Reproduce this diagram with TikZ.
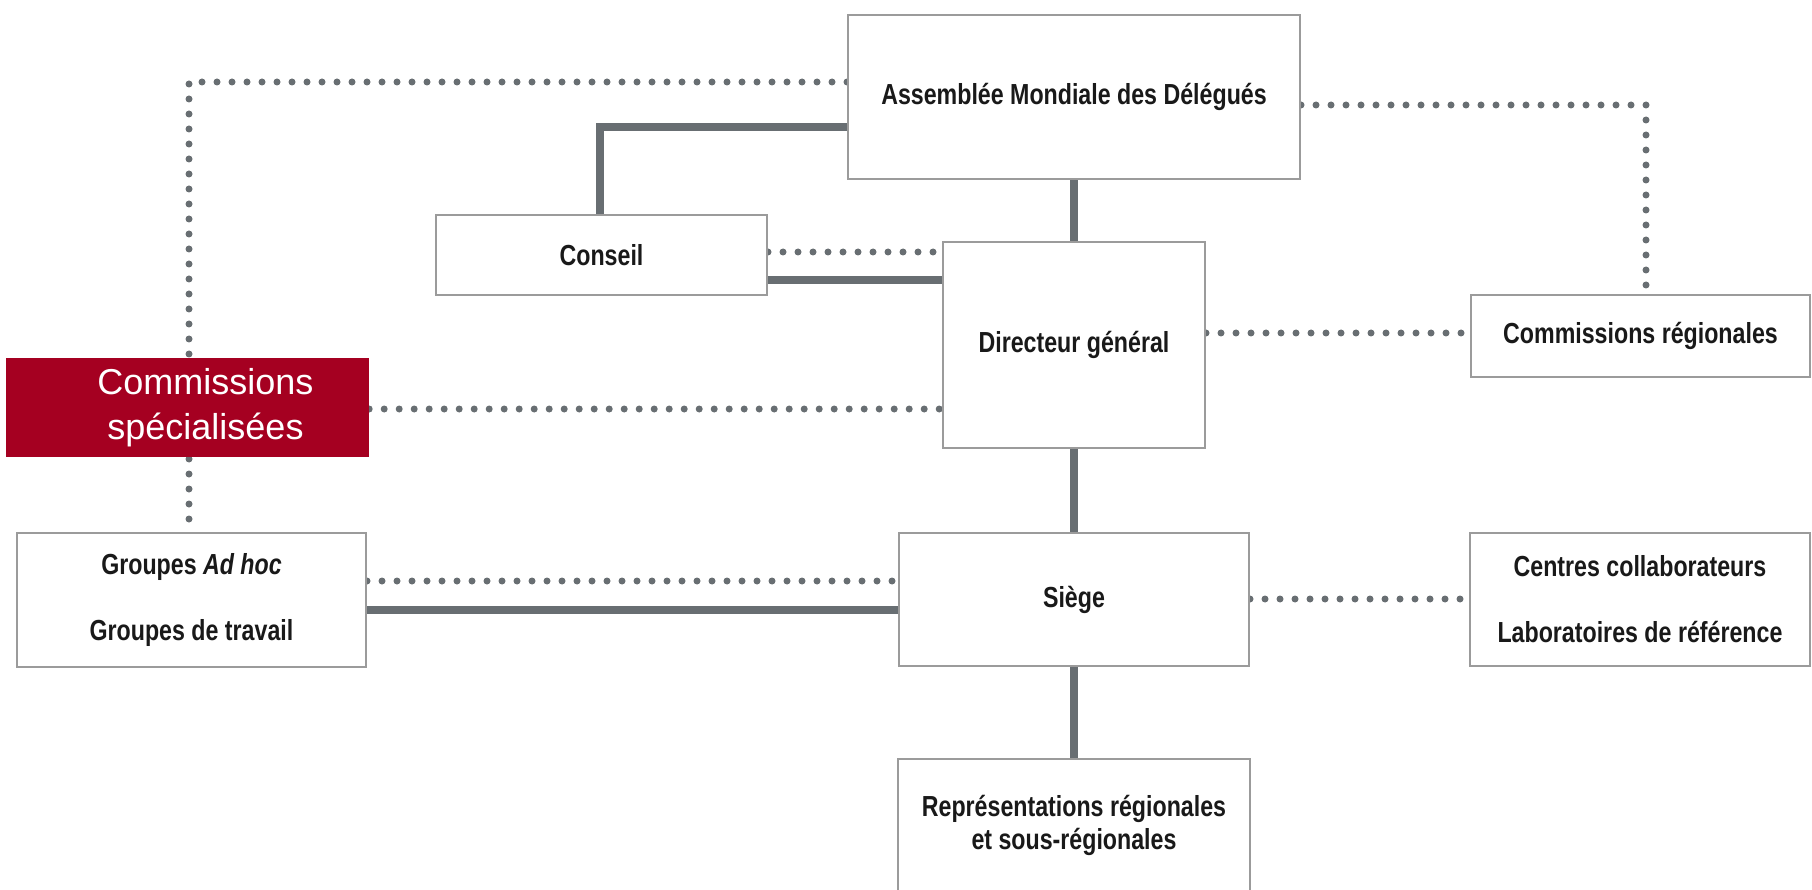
\documentclass[tikz,border=0pt]{standalone}
\usepackage{fontspec}
\newfontfamily\condfont[FakeStretch=0.8]{Liberation Sans}
\newfontfamily\arialfont{Liberation Sans}
\definecolor{linegray}{RGB}{104,110,114}
\definecolor{boxgray}{RGB}{155,155,155}
\definecolor{redbox}{RGB}{165,0,33}
\pgfdeclarelayer{bg}
\pgfsetlayers{bg,main}
\begin{document}
\begin{tikzpicture}[x=1pt,y=-1pt,
  box/.style={draw=boxgray, line width=2pt, fill=white, inner sep=0pt, align=center,
    font=\condfont\bfseries\fontsize{29}{34}\selectfont, text=black!90},
  solidlink/.style={draw=linegray, line width=7.5pt},
  dotlink/.style={draw=linegray, line width=7pt, line cap=round, dash pattern=on 0pt off 15pt},
]
\useasboundingbox (0,0) rectangle (1812,890);

\node[box, minimum width=452pt, minimum height=164pt] (asm) at (1074,97) {Assemblée Mondiale des Délégués};
\node[box, minimum width=331pt, minimum height=80pt] (con) at (601.5,255) {Conseil};
\node[box, minimum width=262pt, minimum height=206pt] (dg) at (1074,345) {Directeur général};
\node[box, minimum width=339pt, minimum height=82pt] (cr) at (1640.5,336) {Commissions régionales};
\node[draw=none, fill=redbox, inner sep=0pt, minimum width=363pt, minimum height=99pt, align=center,
  text=white, font=\arialfont\fontsize{36}{45}\selectfont] (cs) at (187.5,407.5)
  {\hspace*{36pt}Commissions\\\hspace*{36pt}spécialisées};
\node[box, minimum width=349pt, minimum height=134pt, font=\condfont\bfseries\fontsize{29}{66}\selectfont] (gr) at (191.5,600)
  {Groupes \textit{Ad hoc}\\Groupes de travail};
\node[box, minimum width=350pt, minimum height=133pt] (sg) at (1074,599.5) {Siège};
\node[box, minimum width=340pt, minimum height=133pt, font=\condfont\bfseries\fontsize{29}{66}\selectfont] (cc) at (1640,599.5)
  {Centres collaborateurs\\Laboratoires de référence};
\node[box, draw=none, minimum width=350pt, minimum height=131pt, anchor=north, font=\condfont\bfseries\fontsize{29}{33}\selectfont] (rep) at (1074,759)
  {Représentations régionales\\et sous-régionales};
\draw[draw=boxgray, line width=2pt] (rep.south west) -- (rep.north west) -- (rep.north east) -- (rep.south east);

\coordinate (cj) at (600,127);
\coordinate (tl) at (189,82);
\coordinate (tr) at (1646,105);
\coordinate (ys1) at (0,280);
\coordinate (ys2) at (0,610);
\coordinate (yd1) at (0,252);
\coordinate (yd2) at (0,333);
\coordinate (yd3) at (0,409);
\coordinate (yd4) at (0,581);
\coordinate (yd5) at (0,599);

\begin{pgfonlayer}{bg}
  \draw[solidlink] (asm.south) -- (dg.north);
  \draw[solidlink] (dg.south) -- (sg.north);
  \draw[solidlink] (sg.south) -- (rep.north);
  \draw[solidlink] (asm.west |- cj) -- (cj) -- (cj |- con.north);
  \draw[solidlink] (con.east |- ys1) -- (dg.west |- ys1);
  \draw[solidlink] (gr.east |- ys2) -- (sg.west |- ys2);

  \draw[dotlink] (asm.west |- tl) -- (tl) -- (tl |- gr.north);
  \draw[dotlink] (asm.east |- tr) -- (tr) -- (tr |- cr.north);
  \draw[dotlink] (con.east |- yd1) -- (dg.west |- yd1);
  \draw[dotlink] (dg.east |- yd2) -- (cr.west |- yd2);
  \draw[dotlink] (cs.east |- yd3) -- (dg.west |- yd3);
  \draw[dotlink] (gr.east |- yd4) -- (sg.west |- yd4);
  \draw[dotlink] (sg.east |- yd5) -- (cc.west |- yd5);
\end{pgfonlayer}
\end{tikzpicture}
\end{document}
